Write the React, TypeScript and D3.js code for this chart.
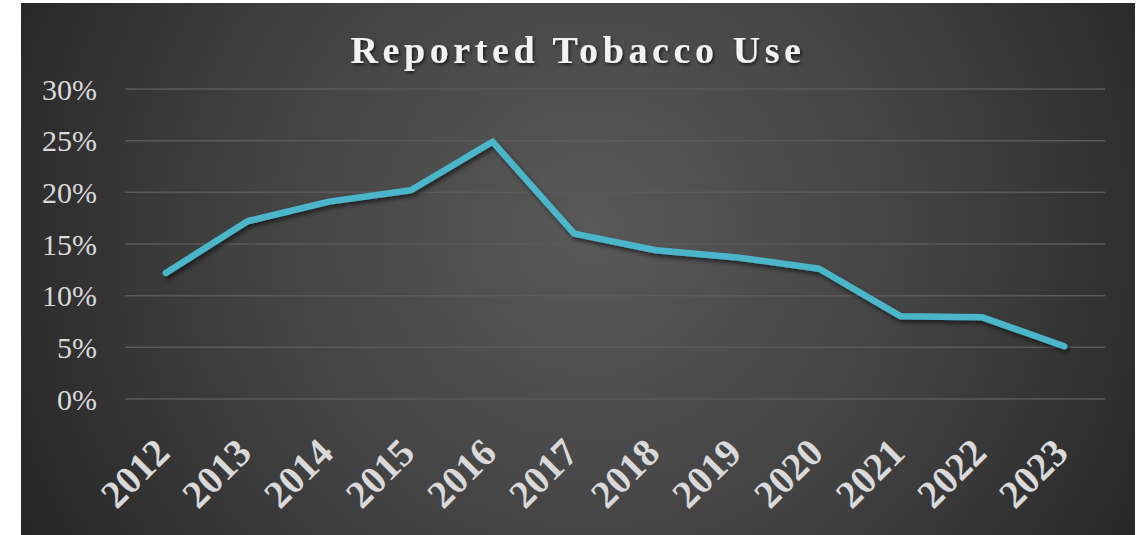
import React from "react";
import * as d3 from "d3";

const years = ["2012","2013","2014","2015","2016","2017","2018","2019","2020","2021","2022","2023"];
const tobaccoUse = [12.2, 17.2, 19.1, 20.2, 24.9, 16.0, 14.4, 13.7, 12.6, 8.0, 7.9, 5.1];
const yTicks = [0, 5, 10, 15, 20, 25, 30];
const title = "Reported Tobacco Use";

const W = 1140, H = 535;
const bg = { x: 21, y: 3, w: 1114, h: 532 };
const plot = { left: 125, right: 1105, top: 89, bottom: 399 };

export default function App() {
  const x = d3.scaleBand<string>().domain(years).range([plot.left, plot.right]);
  const y = d3.scaleLinear().domain([0, 30]).range([plot.bottom, plot.top]);
  const cx = (d: string) => (x(d) as number) + x.bandwidth() / 2;
  const line = d3.line<number>().x((_, i) => cx(years[i])).y(v => y(v));

  return (
    <svg width={W} height={H} style={{ position: "absolute", left: 0, top: 0, background: "#fff" }}>
      <defs>
        <radialGradient id="bgGrad" gradientUnits="userSpaceOnUse" cx={590} cy={230} r={640}>
          <stop offset="0" stopColor="#595959" />
          <stop offset="0.55" stopColor="#414141" />
          <stop offset="1" stopColor="#262626" />
        </radialGradient>
        <filter id="lineShadow" x="-5%" y="-10%" width="110%" height="130%">
          <feDropShadow dx="2" dy="3" stdDeviation="2" floodColor="#000" floodOpacity="0.55" />
        </filter>
        <filter id="textShadow" x="-5%" y="-20%" width="110%" height="150%">
          <feDropShadow dx="1.5" dy="2" stdDeviation="1.5" floodColor="#000" floodOpacity="0.6" />
        </filter>
      </defs>
      <rect x={bg.x} y={bg.y} width={bg.w} height={bg.h} fill="url(#bgGrad)" />
      <text
        x={578}
        y={63}
        textAnchor="middle"
        fontFamily="'Liberation Serif', 'Times New Roman', serif"
        fontWeight="bold"
        fontSize={38}
        letterSpacing={4.6}
        fill="#f2f2f2"
        filter="url(#textShadow)"
      >
        {title}
      </text>
      {yTicks.map(t => (
        <g key={t}>
          <line x1={plot.left} x2={plot.right} y1={y(t)} y2={y(t)} stroke="#5a5a5a" strokeWidth={1.5} />
          <text
            x={97}
            y={y(t)}
            dy="0.35em"
            textAnchor="end"
            fontFamily="'Liberation Serif', 'Times New Roman', serif"
            fontSize={30}
            fill="#d9d9d9"
          >
            {t}%
          </text>
        </g>
      ))}
      {years.map(yr => (
        <text
          key={yr}
          transform={`translate(${cx(yr) + 6},455) rotate(-45)`}
          textAnchor="end"
          fontFamily="'Liberation Serif', 'Times New Roman', serif"
          fontWeight="bold"
          fontSize={39}
          fill="#d9d9d9"
        >
          {yr}
        </text>
      ))}
      <path
        d={line(tobaccoUse) || ""}
        fill="none"
        stroke="#4bb5c9"
        strokeWidth={6.5}
        strokeLinecap="round"
        strokeLinejoin="round"
        filter="url(#lineShadow)"
      />
    </svg>
  );
}
